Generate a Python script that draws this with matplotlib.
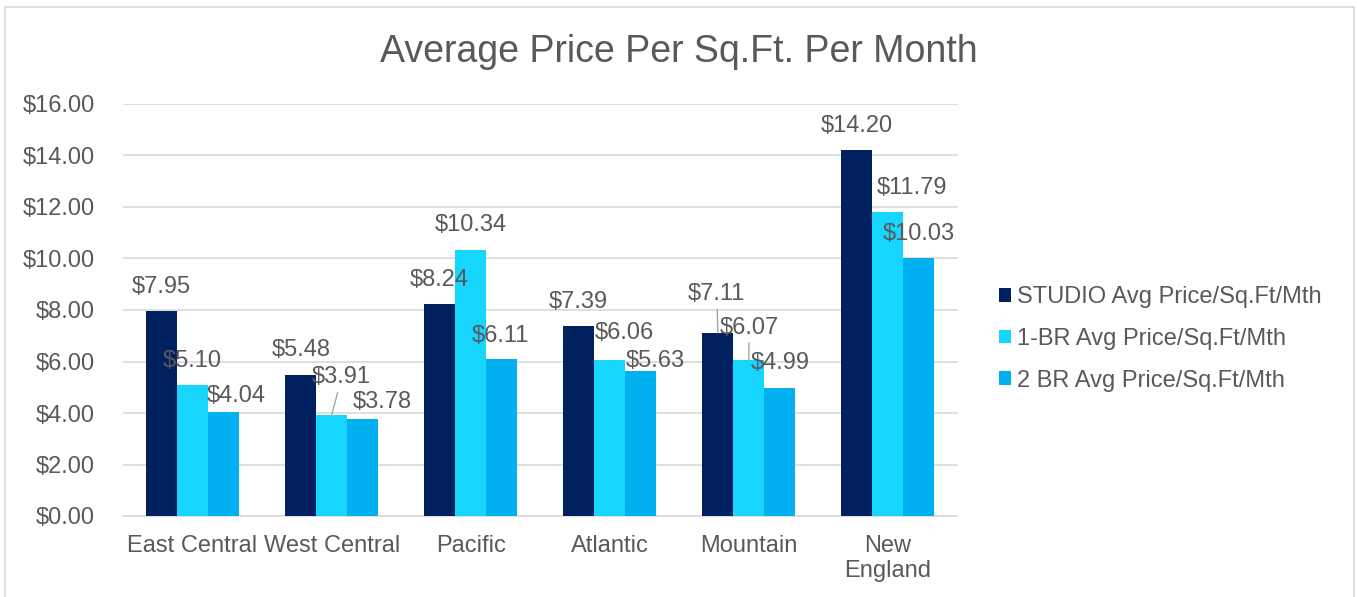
import numpy as np
import matplotlib
matplotlib.use('Agg')
import matplotlib.pyplot as plt
from matplotlib.patches import Patch, Rectangle

plt.rcParams['font.family'] = ['Liberation Sans', 'DejaVu Sans']

# data
regions = ['East Central', 'West Central', 'Pacific', 'Atlantic', 'Mountain', 'New\nEngland']
series_names = ['STUDIO Avg Price/Sq.Ft/Mth', '1-BR Avg Price/Sq.Ft/Mth', '2 BR Avg Price/Sq.Ft/Mth']
studio = [7.95, 5.48, 8.24, 7.39, 7.11, 14.20]
one_br = [5.10, 3.91, 10.34, 6.06, 6.07, 11.79]
two_br = [4.04, 3.78, 6.11, 5.63, 4.99, 10.03]
yticks = [0, 2, 4, 6, 8, 10, 12, 14, 16]

# style
colors = ['#002060', '#17D6FE', '#00B0F0']
text_col = '#595959'
grid_col = '#D9D9D9'
fs = 17

# label nudges in pixels (dx, dy above bar top), per series then region
nudges = [
    [(0, 25), (1, 26), (0, 25), (0, 25), (-1, 40), (0, 25)],
    [(0, 25), (10, 39), (0, 26), (15, 28), (0, 33), (24, 25)],
    [(13, 17), (20, 18), (-1, 24), (14, 11), (0, 26), (0, 25)],
]
leaders = [(0, 4), (1, 1), (1, 4)]  # (series, region) with a leader line

fig = plt.figure(figsize=(13.57, 5.97), dpi=100)
ax = fig.add_axes([123 / 1357, 1 - 516 / 597, (957.5 - 123) / 1357, (516 - 104) / 597])

x = np.arange(len(regions))
w = 0.223
all_series = [studio, one_br, two_br]
for s, vals in enumerate(all_series):
    xs = x + (s - 1) * w
    ax.bar(xs, vals, width=w, color=colors[s], label=series_names[s], zorder=3)
    for i, v in enumerate(vals):
        dx, dy = nudges[s][i]
        arrow = None
        if (s, i) in leaders:
            arrow = dict(arrowstyle='-', color='#A6A6A6', lw=1.0, shrinkA=1, shrinkB=0)
        ax.annotate('${:.2f}'.format(v), xy=(xs[i], v), xytext=(dx, dy - 1),
                    textcoords='offset pixels', ha='center', va='center',
                    fontsize=fs, color=text_col, zorder=5, arrowprops=arrow)

ax.set_xlim(-0.5, len(regions) - 0.5)
ax.set_ylim(0, 16)
ax.set_yticks(yticks)
ax.set_yticklabels(['${:.2f}'.format(t) for t in yticks])
ax.set_xticks(x)
ax.set_xticklabels(regions, linespacing=1.15)
ax.tick_params(axis='y', length=0, pad=20, labelsize=fs, labelcolor=text_col)
ax.tick_params(axis='x', length=0, pad=14, labelsize=fs, labelcolor=text_col)
ax.grid(axis='y', color=grid_col, lw=1.2, zorder=0)
for sp in ['top', 'right', 'left']:
    ax.spines[sp].set_visible(False)
ax.spines['bottom'].set_color(grid_col)
ax.spines['bottom'].set_linewidth(1.2)

fig.text(0.5, 1 - 52 / 597, 'Average Price Per Sq.Ft. Per Month', ha='center', va='center',
         fontsize=27, color=text_col)

handles = [Patch(facecolor=c) for c in colors]
fig.legend(handles, series_names, loc='center left', bbox_to_anchor=(999 / 1357, 1 - 339 / 597),
           frameon=False, fontsize=fs, labelcolor=text_col, handlelength=0.51, handleheight=0.51,
           handletextpad=0.25, labelspacing=0.83, borderpad=0, borderaxespad=0)

# outer chart border
fig.patches.append(Rectangle((5 / 1357, -0.05), 1349 / 1357, 1.05 - 7 / 597,
                             transform=fig.transFigure, fill=False, edgecolor=grid_col, lw=1.2))

fig.savefig('out.png', dpi=100)
